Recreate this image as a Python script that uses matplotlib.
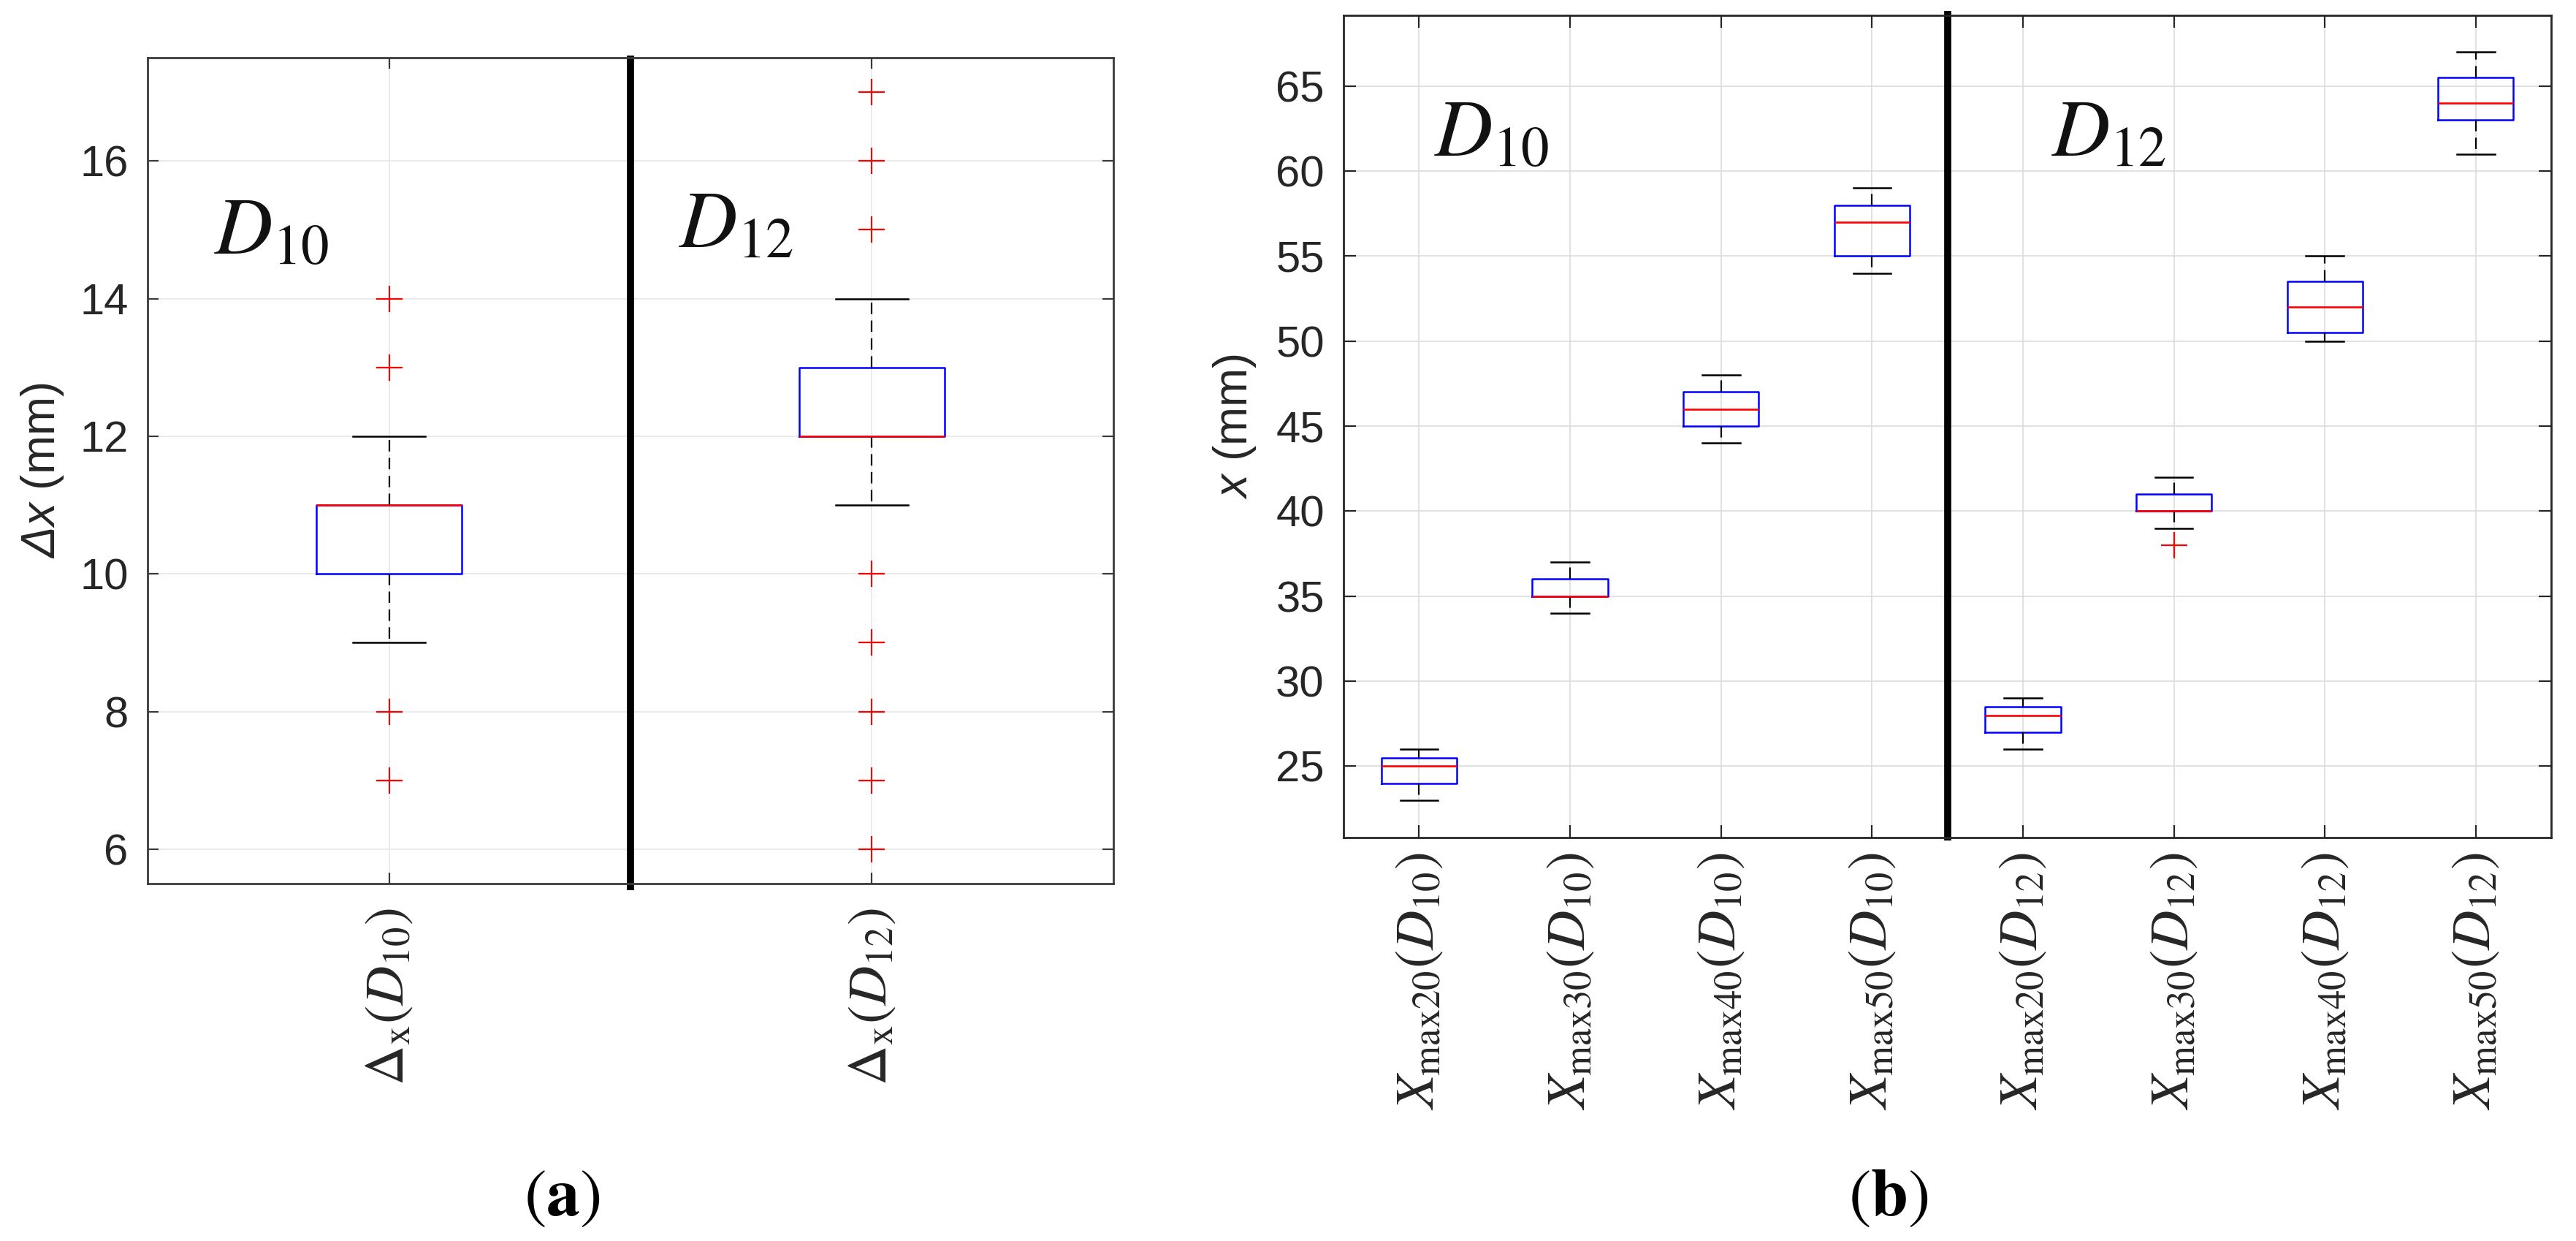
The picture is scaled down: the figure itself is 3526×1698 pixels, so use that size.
"""Box plots of the x offsets for the D10 and D12 series, panels (a) and (b)."""

import matplotlib

matplotlib.use("Agg")
import matplotlib.pyplot as plt

plt.rcParams["font.family"] = ["Liberation Sans", "DejaVu Sans"]
plt.rcParams["mathtext.fontset"] = "custom"
plt.rcParams["mathtext.rm"] = "Liberation Sans"
plt.rcParams["mathtext.sf"] = "Liberation Sans:italic"

# panel (a): delta x
left_labels = [r"$\Delta_{\mathrm{x}}(D_{10})$", r"$\Delta_{\mathrm{x}}(D_{12})$"]
left_q1 = [10, 12]
left_med = [11, 12]
left_q3 = [11, 13]
left_whislo = [9, 11]
left_whishi = [12, 14]
left_fliers = [[7, 8, 13, 14], [6, 7, 8, 9, 10, 15, 16, 17]]

# panel (b): x at the four maxima
right_labels = [
    r"$X_{\mathrm{max}20}(D_{10})$",
    r"$X_{\mathrm{max}30}(D_{10})$",
    r"$X_{\mathrm{max}40}(D_{10})$",
    r"$X_{\mathrm{max}50}(D_{10})$",
    r"$X_{\mathrm{max}20}(D_{12})$",
    r"$X_{\mathrm{max}30}(D_{12})$",
    r"$X_{\mathrm{max}40}(D_{12})$",
    r"$X_{\mathrm{max}50}(D_{12})$",
]
right_q1 = [24, 35, 45, 55, 27, 40, 50.5, 63]
right_med = [25, 35, 46, 57, 28, 40, 52, 64]
right_q3 = [25.5, 36, 47, 58, 28.5, 41, 53.5, 65.5]
right_whislo = [23, 34, 44, 54, 26, 39, 50, 61]
right_whishi = [26, 37, 48, 59, 29, 42, 55, 67]
right_fliers = [[], [], [], [], [], [38], [], []]

TEXT_COLOR = "#262626"


def make_stats(q1, med, q3, lo, hi, fliers):
    return [
        {"q1": a, "med": m, "q3": b, "whislo": w0, "whishi": w1, "fliers": f}
        for a, m, b, w0, w1, f in zip(q1, med, q3, lo, hi, fliers)
    ]


def draw_boxes(ax, stats, width, capwidth):
    positions = list(range(1, len(stats) + 1))
    ax.bxp(
        stats,
        positions=positions,
        widths=width,
        capwidths=capwidth,
        manage_ticks=False,
        boxprops={"color": "#0000ff", "linewidth": 1.8},
        medianprops={"color": "#ff0000", "linewidth": 1.9, "zorder": 3},
        whiskerprops={"color": "black", "linewidth": 1.6, "linestyle": (0, (7, 4))},
        capprops={"color": "black", "linewidth": 1.8},
        flierprops={
            "marker": "+",
            "markersize": 26,
            "markeredgewidth": 1.6,
            "markeredgecolor": "#ff0000",
            "linestyle": "none",
        },
    )
    return positions


def style_axes(ax, grid_color, spine_color, tick_len):
    ax.set_axisbelow(True)
    ax.grid(True, color=grid_color, linewidth=1.2)
    for spine in ax.spines.values():
        spine.set_color(spine_color)
        spine.set_linewidth(2.0)
    ax.tick_params(
        direction="in",
        top=True,
        right=True,
        length=tick_len,
        width=1.6,
        color=spine_color,
        labelcolor=TEXT_COLOR,
        labelsize=43,
        pad=19,
    )


fig = plt.figure(figsize=(35.26, 16.98), dpi=100)

# ---- panel (a)
ax_a = fig.add_axes([0.0573, 0.288, 0.3749, 0.6655])
pos_a = draw_boxes(
    ax_a,
    make_stats(left_q1, left_med, left_q3, left_whislo, left_whishi, left_fliers),
    0.3,
    0.15,
)
ax_a.set_xlim(0.5, 2.5)
ax_a.set_ylim(5.5, 17.5)
ax_a.set_yticks([6, 8, 10, 12, 14, 16])
style_axes(ax_a, "#e8e8e8", "#3a3a3a", 11)
ax_a.set_xticks(pos_a)
ax_a.set_xticklabels(left_labels, rotation=90, fontsize=54, math_fontfamily="stix")
ax_a.tick_params(axis="x", pad=24)
ax_a.set_ylabel(r"$\mathsf{\Delta x}$ (mm)", fontsize=46, color=TEXT_COLOR)
ax_a.yaxis.set_label_coords(-0.085, 0.5)
ax_a.axvline(1.5, ymin=-0.008, ymax=1.003, color="black", linewidth=7,
             clip_on=False, solid_capstyle="butt")
ax_a.text(0.638, 14.65, r"$D_{10}$", fontsize=79, math_fontfamily="stix",
          ha="left", va="baseline", color="#111111")
ax_a.text(1.60, 14.74, r"$D_{12}$", fontsize=79, math_fontfamily="stix",
          ha="left", va="baseline", color="#111111")

# ---- panel (b)
ax_b = fig.add_axes([0.5216, 0.325, 0.4688, 0.6626])
pos_b = draw_boxes(
    ax_b,
    make_stats(right_q1, right_med, right_q3, right_whislo, right_whishi, right_fliers),
    0.5,
    0.25,
)
ax_b.set_xlim(0.5, 8.5)
ax_b.set_ylim(20.8, 69.15)
ax_b.set_yticks(range(25, 70, 5))
style_axes(ax_b, "#dcdcdc", "#262626", 12)
ax_b.set_xticks(pos_b)
ax_b.set_xticklabels(right_labels, rotation=90, fontsize=54, math_fontfamily="stix")
ax_b.tick_params(axis="x", pad=15)
ax_b.set_ylabel(r"$\mathsf{x}$ (mm)", fontsize=46, color=TEXT_COLOR)
ax_b.yaxis.set_label_coords(-0.071, 0.5)
ax_b.axvline(4.5, ymin=-0.003, ymax=1.005, color="black", linewidth=7,
             clip_on=False, solid_capstyle="butt")
ax_b.text(1.10, 60.9, r"$D_{10}$", fontsize=79, math_fontfamily="stix",
          ha="left", va="baseline", color="#111111")
ax_b.text(5.19, 60.85, r"$D_{12}$", fontsize=79, math_fontfamily="stix",
          ha="left", va="baseline", color="#111111")

# ---- panel captions
fig.text(0.2182, 0.0347, r"$(\mathbf{a})$", fontsize=66, math_fontfamily="stix",
         ha="center", va="center")
fig.text(0.7331, 0.0347, r"$(\mathbf{b})$", fontsize=66, math_fontfamily="stix",
         ha="center", va="center")

fig.savefig("out.png", dpi=100, facecolor="white")
